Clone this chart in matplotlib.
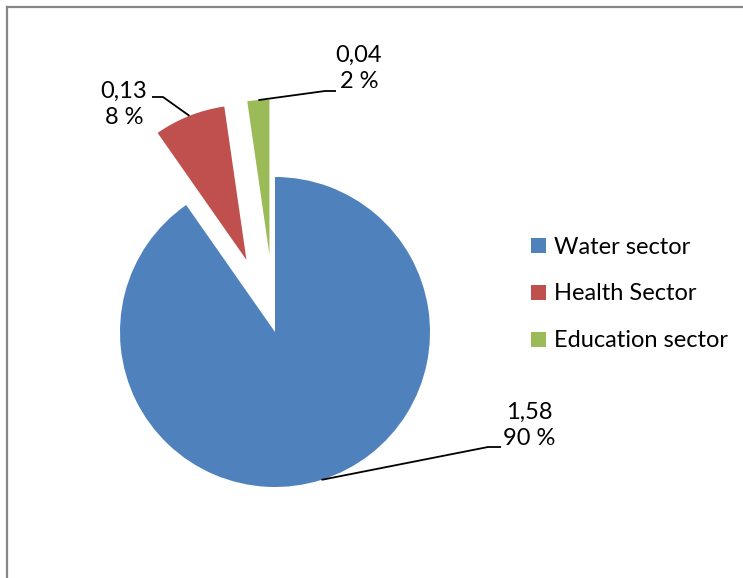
import matplotlib
matplotlib.use("Agg")
import matplotlib.pyplot as plt
from matplotlib.lines import Line2D
from matplotlib.patches import Patch
import numpy as np

# Data
sectors = ["Water sector", "Health Sector", "Education sector"]
values = [1.58, 0.13, 0.04]
percent_labels = ["90 %", "8 %", "2 %"]
colors = ["#4F81BD", "#C0504D", "#9BBB59"]

W, H = 743, 578
fig = plt.figure(figsize=(W / 100, H / 100), dpi=100)
plt.rcParams["font.family"] = ["Lato", "DejaVu Sans"]

# Pie geometry in pixels (centre of the unexploded pie, radius)
cx, cy, R = 275, 332, 155


def px(x, y):
    """Convert figure pixel position (from top-left) to data coordinates."""
    return (x - cx) / R, (cy - y) / R


ax = fig.add_axes([0, 0, 1, 1])
wedges, _ = ax.pie(values, colors=colors, startangle=90, counterclock=False,
                   explode=[0, 0.5, 0.5], radius=1,
                   wedgeprops=dict(linewidth=0))
ax.set_xlim(-cx / R, (W - cx) / R)
ax.set_ylim(-(H - cy) / R, cy / R)
ax.set_aspect("equal")
ax.axis("off")


def arc_mid(w):
    ang = np.deg2rad((w.theta1 + w.theta2) / 2)
    c = w.center
    return c[0] + w.r * np.cos(ang), c[1] + w.r * np.sin(ang)


# Label layout: text centre, elbow point, line end (pixels)
layout = [
    ((529, 425), (488, 447), (501, 447)),
    ((124, 104), (163, 97), (152, 97)),
    ((359, 68), (325, 91), (336, 91)),
]

for w, v, p, (tc, elbow, end) in zip(wedges, values, percent_labels, layout):
    sx, sy = arc_mid(w)
    ex, ey = px(*elbow)
    fx, fy = px(*end)
    ax.plot([sx, ex, fx], [sy, ey, fy], color="black", lw=1.3,
            solid_joinstyle="miter", solid_capstyle="butt")
    tx, ty = px(*tc)
    ax.text(tx, ty, f"{v:.2f}".replace(".", ",") + "\n" + p,
            ha="center", va="center", multialignment="center",
            fontsize=17, linespacing=1.3, color="#000000")

# Legend
handles = [Patch(facecolor=c, edgecolor="none") for c in colors]
fig.legend(handles, sectors, loc="center left",
           bbox_to_anchor=(522 / W, 1 - 294 / H), frameon=False,
           fontsize=17, handlelength=0.62, handleheight=0.62,
           handletextpad=0.35, labelspacing=1.1, borderaxespad=0)

# Chart area border (top and left edges)
border = "#868686"
fig.add_artist(Line2D([7 / W, 1], [1 - 6.5 / H, 1 - 6.5 / H],
                      transform=fig.transFigure, color=border, lw=1.6))
fig.add_artist(Line2D([7 / W, 7 / W], [0, 1 - 6.5 / H],
                      transform=fig.transFigure, color=border, lw=1.6))

fig.savefig("out.png", dpi=100, facecolor="white")
